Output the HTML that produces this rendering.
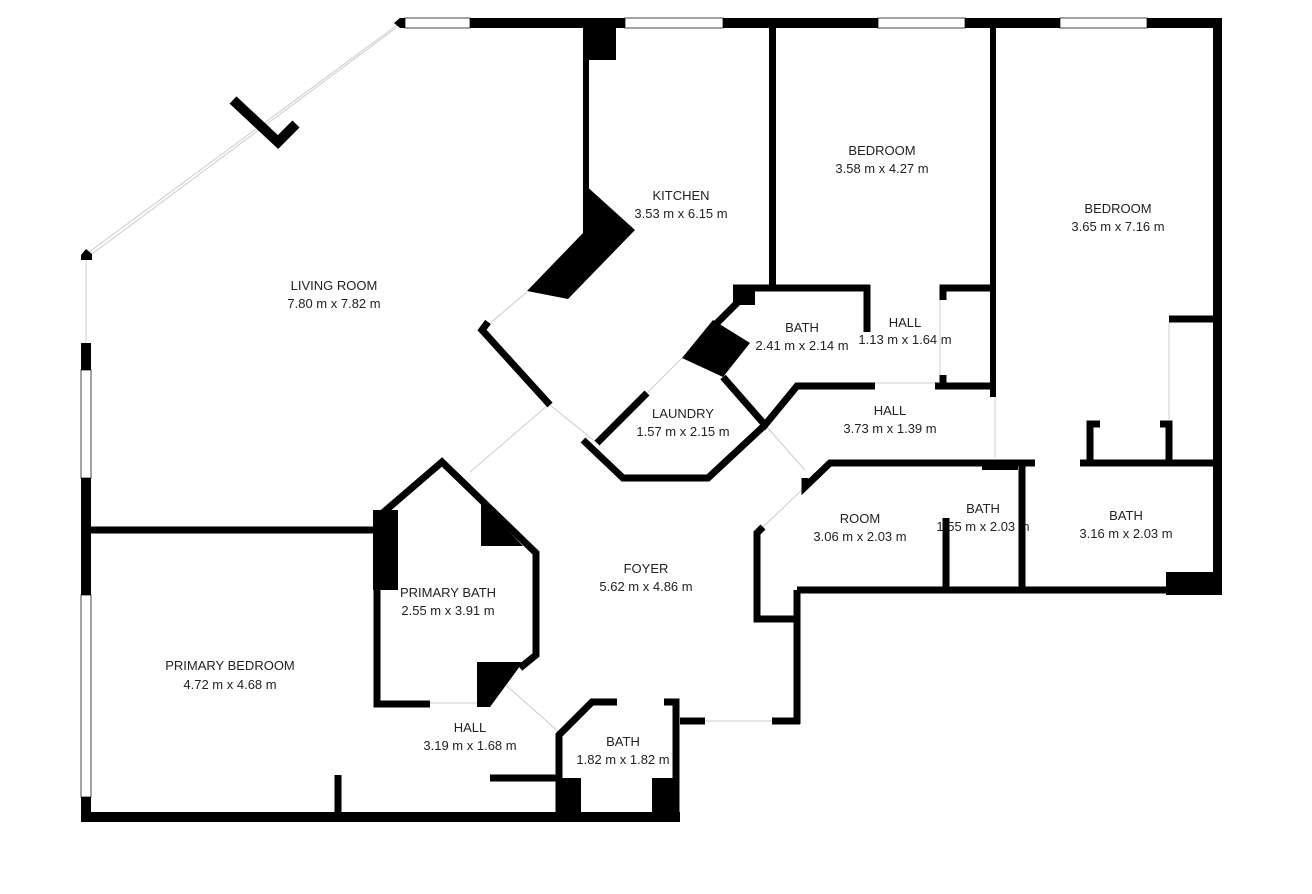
<!DOCTYPE html>
<html><head><meta charset="utf-8"><style>
html,body{margin:0;padding:0;background:#fff;}
svg{display:block;}
text{font-family:"Liberation Sans",Arial,sans-serif;font-size:13px;fill:#222;text-anchor:middle;}
</style></head><body>
<svg width="1312" height="894" viewBox="0 0 1312 894" xmlns="http://www.w3.org/2000/svg">
<rect width="1312" height="894" fill="#fff"/>
<g fill="none" stroke="#ccc" stroke-width="1">
<line x1="400" y1="23" x2="85" y2="255"/><line x1="396" y1="28" x2="92" y2="254"/>
<line x1="86" y1="255" x2="86" y2="343"/>
<line x1="527" y1="292" x2="482" y2="330"/>
<line x1="548" y1="405" x2="470" y2="472"/>
<line x1="550" y1="405" x2="597" y2="443"/>
<line x1="682" y1="358" x2="647" y2="393"/>
<line x1="765" y1="425" x2="805" y2="470"/>
<line x1="805" y1="487" x2="763" y2="527"/>
<line x1="500" y1="680" x2="560" y2="733"/>
<line x1="430" y1="703" x2="477" y2="703"/>
<line x1="875" y1="383" x2="935" y2="383"/>
<line x1="940" y1="300" x2="940" y2="375"/>
<line x1="995" y1="397" x2="995" y2="458"/>
<line x1="1169" y1="322" x2="1169" y2="420"/>
<line x1="705" y1="721" x2="772" y2="721"/>
</g>
<!-- windows -->
<g fill="#fff" stroke="#444" stroke-width="1">
<rect x="405" y="18" width="65" height="10"/><rect x="625" y="18" width="98" height="10"/>
<rect x="878" y="18" width="87" height="10"/><rect x="1060" y="18" width="87" height="10"/>
<rect x="81" y="370" width="10" height="108"/><rect x="81" y="595" width="10" height="202"/>
</g>
<g fill="#000">
<!-- top wall -->
<rect x="470" y="18" width="155" height="10"/><rect x="723" y="18" width="155" height="10"/>
<rect x="965" y="18" width="95" height="10"/><rect x="1147" y="18" width="75" height="10"/>
<polygon points="394,23 400,18 405,18 405,28 400,28"/>
<polygon points="81,255 86,249 92,254 92,260 81,260"/>
<!-- right wall -->
<rect x="1213" y="18" width="9" height="577"/>
<rect x="1166" y="572" width="56" height="23"/>
<!-- left wall -->
<rect x="81" y="343" width="10" height="27"/><rect x="81" y="478" width="10" height="117"/><rect x="81" y="797" width="10" height="25"/>
<!-- bottom wall -->
<rect x="81" y="812" width="599" height="10"/>
<!-- kitchen -->
<rect x="583" y="28" width="6" height="160"/><rect x="583" y="28" width="33" height="32"/>
<polygon points="583,183 635,230 568,299 527,291 583,233"/>
<rect x="769" y="28" width="7" height="262"/>
<rect x="990" y="28" width="6" height="369"/>
<!-- chevron -->
<polyline points="233,100 278,142 296,124" fill="none" stroke="#000" stroke-width="10"/>
</g>
<g fill="none" stroke="#000" stroke-width="7" stroke-linecap="butt">
<!-- living diagonal -->
<polyline points="488,322 482,330 550,405"/>
<!-- bath upper -->
<line x1="733" y1="288" x2="870" y2="288"/>
<line x1="867" y1="285" x2="867" y2="332"/>
<polyline points="943,300 943,288 993,288"/>
<line x1="943" y1="375" x2="943" y2="385"/>
<line x1="740" y1="300" x2="710" y2="330"/>
<polyline points="723,377 765,425 797,386 875,386"/>
<line x1="935" y1="386" x2="993" y2="386"/>
<!-- laundry -->
<polyline points="583,440 623,478 708,478 765,425"/>
<line x1="597" y1="443" x2="647" y2="393"/>
<!-- room/bath row -->
<polyline points="805,478 805,487 830,463 1035,463"/>
<line x1="1080" y1="463" x2="1215" y2="463"/>
<line x1="1022" y1="463" x2="1022" y2="590"/>
<line x1="946" y1="518" x2="946" y2="590"/>
<polyline points="1100,424 1090,424 1090,463"/>
<polyline points="1160,424 1169,424 1169,463"/>
<line x1="1169" y1="319" x2="1215" y2="319"/>
<line x1="797" y1="590" x2="1215" y2="590"/>
<polyline points="763,527 757,533 757,619 800,619"/>
<line x1="797" y1="590" x2="797" y2="724"/>
<line x1="680" y1="721" x2="705" y2="721"/>
<line x1="772" y1="721" x2="800" y2="721"/>
<!-- primary bath -->
<polyline points="378,517 442,462 536,553 536,655 520,668"/>
<polyline points="377,510 377,704 430,704"/>
<line x1="91" y1="530" x2="378" y2="530"/>
<!-- hall / small bath -->
<line x1="490" y1="778" x2="560" y2="778"/>
<line x1="338" y1="775" x2="338" y2="815"/>
<polyline points="559,815 559,735 592,702 617,702"/>
<polyline points="664,702 676,702 676,815"/>
</g>
<g fill="#000">
<rect x="733" y="285" width="22" height="20"/>
<polygon points="682,358 713,320 750,343 723,377"/>
<rect x="982" y="460" width="36" height="10"/>
<rect x="373" y="510" width="25" height="80"/>
<polygon points="481,503 523,546 481,546"/>
<polygon points="477,662 523,662 490,707 477,707"/>
<rect x="556" y="778" width="25" height="44"/>
<rect x="652" y="778" width="24" height="44"/>
</g>
<text x="334" y="290">LIVING ROOM</text><text x="334" y="308">7.80 m x 7.82 m</text>
<text x="681" y="200">KITCHEN</text><text x="681" y="218">3.53 m x 6.15 m</text>
<text x="882" y="155">BEDROOM</text><text x="882" y="173">3.58 m x 4.27 m</text>
<text x="1118" y="213">BEDROOM</text><text x="1118" y="231">3.65 m x 7.16 m</text>
<text x="802" y="332">BATH</text><text x="802" y="350">2.41 m x 2.14 m</text>
<text x="905" y="327">HALL</text><text x="905" y="344">1.13 m x 1.64 m</text>
<text x="683" y="418">LAUNDRY</text><text x="683" y="436">1.57 m x 2.15 m</text>
<text x="890" y="415">HALL</text><text x="890" y="433">3.73 m x 1.39 m</text>
<text x="860" y="523">ROOM</text><text x="860" y="541">3.06 m x 2.03 m</text>
<text x="983" y="513">BATH</text><text x="983" y="531">1.55 m x 2.03 m</text>
<text x="1126" y="520">BATH</text><text x="1126" y="538">3.16 m x 2.03 m</text>
<text x="646" y="573">FOYER</text><text x="646" y="591">5.62 m x 4.86 m</text>
<text x="448" y="597">PRIMARY BATH</text><text x="448" y="615">2.55 m x 3.91 m</text>
<text x="230" y="670">PRIMARY BEDROOM</text><text x="230" y="689">4.72 m x 4.68 m</text>
<text x="470" y="732">HALL</text><text x="470" y="750">3.19 m x 1.68 m</text>
<text x="623" y="746">BATH</text><text x="623" y="764">1.82 m x 1.82 m</text>
<rect x="943" y="518" width="6" height="20" fill="#000"/>
<rect x="1019" y="518" width="6" height="20" fill="#000"/>
</svg>
</body></html>
